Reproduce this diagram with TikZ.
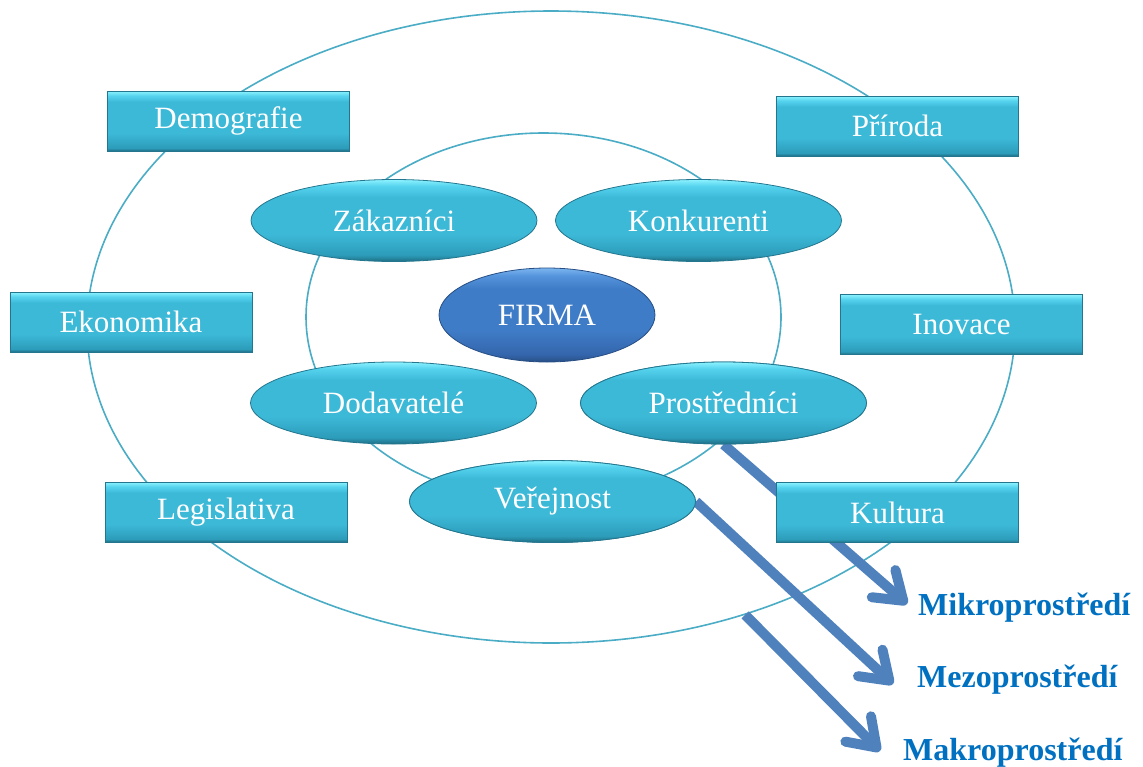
\documentclass[tikz,border=0pt]{standalone}
\usepackage{fontspec}
\setmainfont{Liberation Serif}
\usetikzlibrary{arrows.meta,shapes.geometric}
\definecolor{ringc}{HTML}{4BACC6}
\definecolor{boxtop}{HTML}{8CF2FF}
\definecolor{boxlight}{HTML}{55D3EE}
\definecolor{boxmid}{HTML}{3DB9D8}
\definecolor{boxbot}{HTML}{2C9CBA}
\definecolor{boxdark}{HTML}{1F6E84}
\definecolor{boxedge}{HTML}{23768E}
\definecolor{firmtop}{HTML}{7DB6F0}
\definecolor{firmlight}{HTML}{5595DD}
\definecolor{firmmid}{HTML}{3F7CC7}
\definecolor{firmbot}{HTML}{3466AC}
\definecolor{firmdark}{HTML}{274E84}
\definecolor{arrowblue}{HTML}{4F81BD}
\definecolor{labelblue}{HTML}{0070C0}
\pgfdeclareverticalshading{boxshade}{100bp}{color(0bp)=(boxdark); color(25bp)=(boxdark); color(27.5bp)=(boxbot); color(40bp)=(boxmid); color(66bp)=(boxmid); color(71bp)=(boxlight); color(75bp)=(boxtop); color(100bp)=(boxtop)}
\pgfdeclareverticalshading{ellshade}{100bp}{color(0bp)=(boxdark); color(25bp)=(boxdark); color(29bp)=(boxbot); color(42bp)=(boxmid); color(64bp)=(boxmid); color(71bp)=(boxlight); color(75bp)=(boxtop); color(100bp)=(boxtop)}
\pgfdeclareverticalshading{firmshade}{100bp}{color(0bp)=(firmdark); color(25bp)=(firmdark); color(29bp)=(firmbot); color(42bp)=(firmmid); color(64bp)=(firmmid); color(71bp)=(firmlight); color(75bp)=(firmtop); color(100bp)=(firmtop)}
\begin{document}
\begin{tikzpicture}[x=1pt,y=-1pt,
  ring/.style={ellipse, draw=ringc, line width=1.6pt, inner sep=0pt},
  envbox/.style={rectangle, draw=boxedge, line width=0.8pt, shading=boxshade,
    minimum width=242pt, minimum height=60pt, inner sep=0pt, text=white,
    font=\fontsize{31}{36}\selectfont},
  actor/.style={ellipse, draw=boxedge, line width=0.8pt, shading=ellshade,
    minimum width=286pt, minimum height=82pt, inner sep=0pt, text=white,
    font=\fontsize{31}{36}\selectfont},
  core/.style={ellipse, draw=firmdark, line width=0.8pt, shading=firmshade,
    minimum width=216pt, minimum height=94pt, inner sep=0pt, text=white,
    font=\fontsize{31}{36}\selectfont},
  flow/.style={draw=arrowblue, line width=10pt,
    -{Straight Barb[length=26pt,width=36pt,round]}},
  lbl/.style={text=labelblue, font=\bfseries\fontsize{32}{38}\selectfont,
    anchor=base west, inner sep=0pt}
]
\useasboundingbox (0,0) rectangle (1143,766);
% rings
\node[ring, minimum width=928pt, minimum height=632pt] (outer) at (551,327) {};
\node[ring, minimum width=475pt, minimum height=368pt] (inner) at (543.5,317) {};
% arrow targets
\coordinate (mikrotip) at (907,604);
\coordinate (mezotip) at (893,684);
\coordinate (makrotip) at (880,751);
% inner actors (positions needed for arrows)
\node[actor] (prost) at (723.5,403) {Prostředníci};
\node[actor] (verej) at (552.5,501.5) {Veřejnost};
% arrows (behind boxes)
\draw[flow] (prost.south) -- (mikrotip);
\draw[flow] (verej.east) -- (mezotip);
\draw[flow] (outer.-56.7) -- (makrotip);
% redraw actors on top of arrow starts
\node[actor] at (723.5,403) {Prostředníci};
\node[actor] at (552.5,501.5) {Veřejnost};
\node[actor] (zak) at (394,220.5) {Zákazníci};
\node[actor] (konk) at (698.5,220.5) {Konkurenti};
\node[actor] (dod) at (393.5,403) {Dodavatelé};
\node[core] (firma) at (547,315) {FIRMA};
% environment boxes
\node[envbox] (demo) at (228.5,121) {Demografie};
\node[envbox] (prir) at (897.5,126) {Příroda};
\node[envbox] (eko) at (131,322) {Ekonomika};
\node[envbox] (ino) at (961.5,324.5) {Inovace};
\node[envbox] (leg) at (226,512) {Legislativa};
\node[envbox] (kult) at (897.5,512.5) {Kultura};
% labels
\node[lbl] (mikro) at (918,615) {Mikroprostředí};
\node[lbl] (mezo) at (917,687) {Mezoprostředí};
\node[lbl] (makro) at (903,760) {Makroprostředí};
\end{tikzpicture}
\end{document}
